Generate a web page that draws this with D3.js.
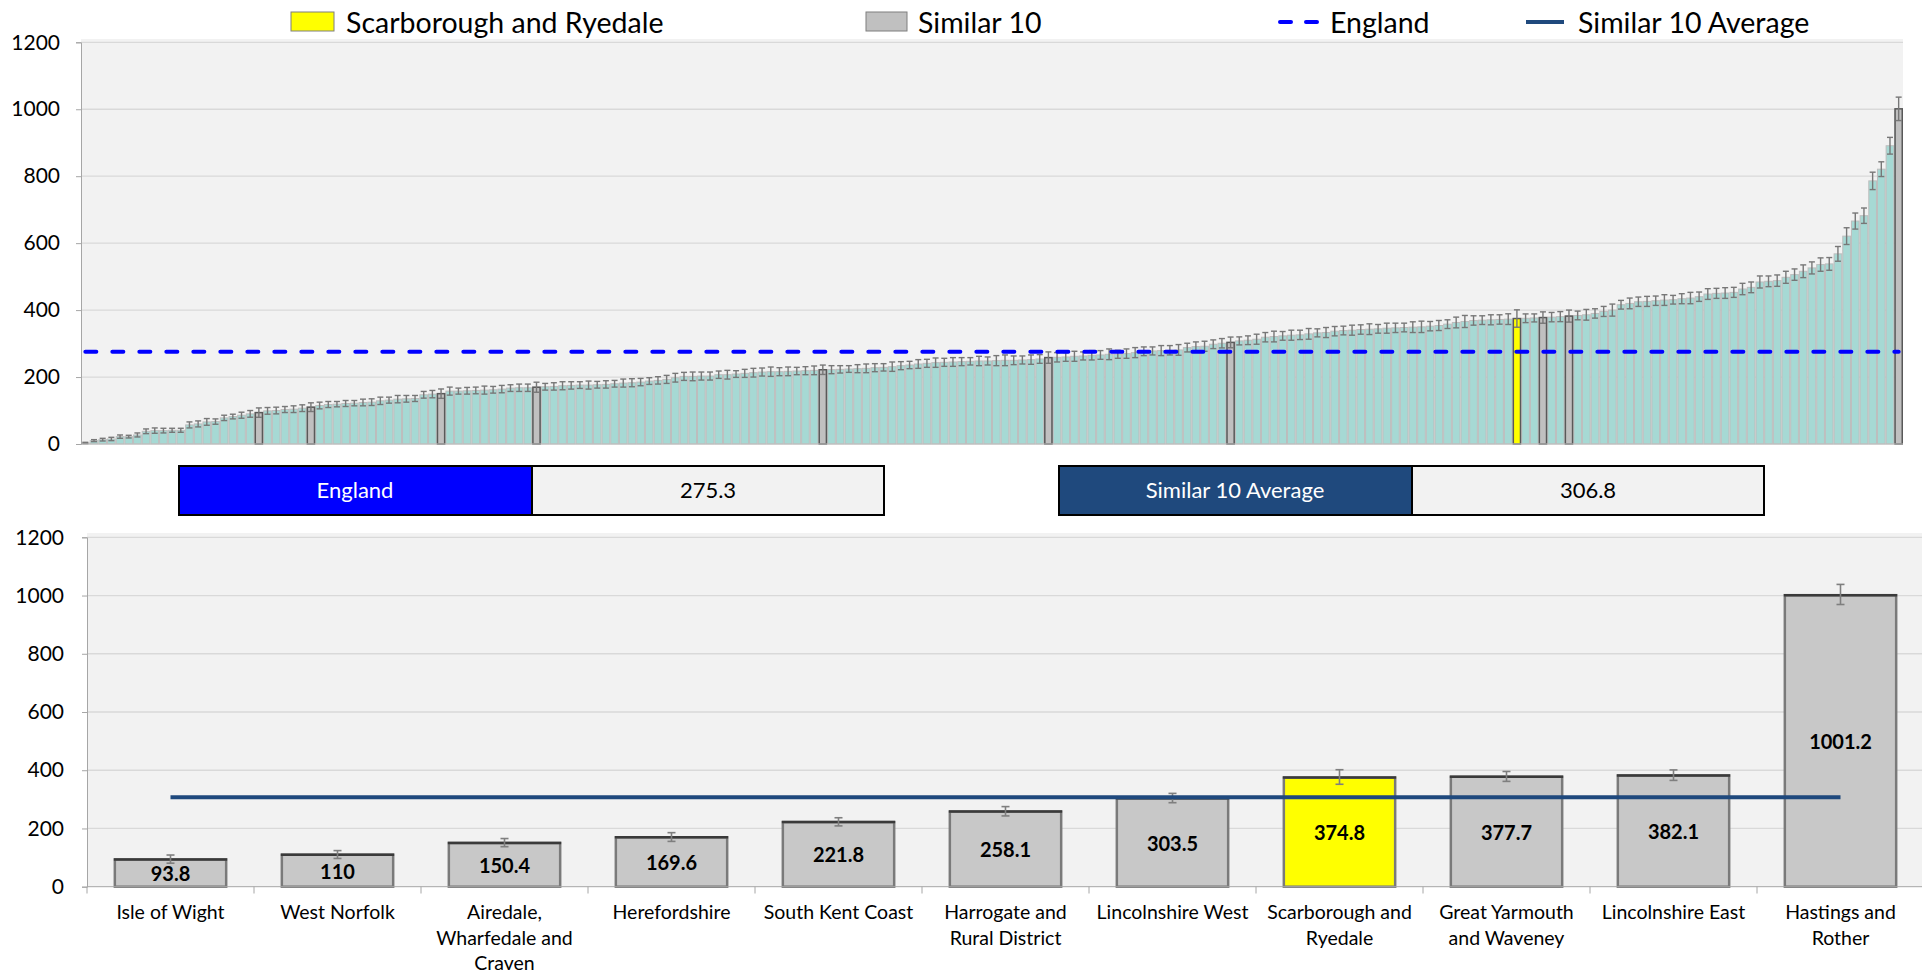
<!DOCTYPE html>
<html>
<head>
<meta charset="utf-8">
<script src="https://cdn.jsdelivr.net/npm/d3@7/dist/d3.min.js"></script>
<style>
body { margin: 0; background: #fff; }
svg text { font-family: Lato, "Open Sans", sans-serif; fill: #000; }
</style>
</head>
<body>
<div id="graph"></div>
<script>
var width = 1922;
var height = 974;

// all areas, sorted (top chart)
var allValues = [
    3, 10, 13, 15, 22, 22, 27, 38, 40, 40,
    41, 41, 57, 60, 66, 67, 78, 82, 86, 90,
    93.8, 99, 100, 103, 104, 107, 110, 115, 118, 119,
    121, 122, 124, 125, 129, 131, 134, 135, 136, 147,
    149, 150.4, 158, 158, 159, 160, 161, 162, 164, 167,
    168, 168, 169.6, 171, 172, 174, 175, 176, 176, 177,
    178, 180, 182, 183, 185, 188, 190, 193, 198, 202,
    202, 203, 203, 207, 207, 209, 211, 213, 215, 216,
    216, 217, 218, 219, 220, 221.8, 222, 223, 224, 225,
    226, 228, 229, 231, 234, 236, 239, 241, 243, 244,
    245, 246, 247, 248, 248, 249, 250, 250, 251, 252,
    254, 258.1, 259, 260, 262, 263, 265, 266, 268, 268,
    270, 273, 277, 278, 279, 280, 281, 288, 291, 292,
    298, 301, 303.5, 308, 310, 313, 319, 321, 323, 325,
    326, 329, 332, 333, 337, 339, 340, 342, 343, 344,
    346, 347, 348, 349, 350, 352, 354, 358, 363, 366,
    369, 370, 371, 372, 373, 374.8, 375.6, 376.6, 377.7, 379,
    380.5, 382.1, 384, 386, 390, 396, 400, 416, 420, 425,
    426, 428, 430, 431, 434, 436, 440, 448, 450, 451,
    453, 463, 468, 484, 486, 488, 498, 506, 516, 526,
    536, 538, 568, 621, 666, 682, 786, 821, 891, 1001.2
];
var allErrors = [
    2, 3, 4, 5, 5, 4, 6, 7, 8, 7,
    6, 6, 9, 9, 10, 8, 8, 7, 9, 10,
    14, 10, 10, 9, 10, 10, 13, 10, 9, 8,
    9, 8, 10, 10, 11, 9, 11, 10, 9, 10,
    11, 14, 12, 9, 10, 10, 12, 10, 11, 10,
    11, 11, 15, 10, 11, 12, 11, 10, 12, 10,
    11, 10, 12, 12, 11, 10, 11, 12, 13, 12,
    13, 12, 12, 11, 13, 10, 12, 13, 12, 14,
    12, 13, 11, 12, 13, 14, 12, 11, 10, 12,
    13, 12, 11, 14, 12, 11, 13, 12, 14, 12,
    13, 12, 11, 14, 12, 15, 16, 13, 12, 14,
    13, 17, 14, 13, 15, 12, 14, 13, 16, 12,
    14, 15, 13, 12, 15, 14, 16, 13, 14, 15,
    13, 14, 16, 12, 13, 15, 14, 16, 13, 15,
    14, 16, 12, 15, 14, 13, 15, 14, 16, 13,
    15, 14, 13, 16, 17, 14, 15, 13, 16, 18,
    14, 13, 15, 14, 16, 26, 13, 12, 17, 14,
    15, 18, 13, 16, 14, 15, 18, 13, 16, 14,
    15, 14, 16, 13, 15, 17, 14, 16, 15, 16,
    15, 17, 16, 18, 16, 17, 18, 17, 19, 18,
    20, 19, 22, 25, 24, 23, 26, 22, 25, 35
];

// similar 10 (bottom chart)
var similarIndex = [20, 26, 41, 52, 85, 111, 132, 165, 168, 171, 209];
var similarNames = ["Isle of Wight", "West Norfolk", "Airedale, Wharfedale and Craven",
    "Herefordshire", "South Kent Coast", "Harrogate and Rural District", "Lincolnshire West",
    "Scarborough and Ryedale", "Great Yarmouth and Waveney", "Lincolnshire East", "Hastings and Rother"];
var similarLabels = [["Isle of Wight"], ["West Norfolk"], ["Airedale,", "Wharfedale and", "Craven"],
    ["Herefordshire"], ["South Kent Coast"], ["Harrogate and", "Rural District"], ["Lincolnshire West"],
    ["Scarborough and", "Ryedale"], ["Great Yarmouth", "and Waveney"], ["Lincolnshire East"], ["Hastings and", "Rother"]];
var similarValues = [93.8, 110, 150.4, 169.6, 221.8, 258.1, 303.5, 374.8, 377.7, 382.1, 1001.2];
var similarLower = [13, 13, 13, 14, 13, 15, 15, 23, 16, 17, 32];
var similarUpper = [15, 14, 15, 16, 15, 17, 17, 27, 18, 19, 37];

var localArea = "Scarborough and Ryedale";
var englandValue = 275.3;
var similarAverage = 306.8;
var yTicks = [0, 200, 400, 600, 800, 1000, 1200];

var teal = "#a6d9d4", grey = "#c0c0c0", yellow = "#ffff00";
var englandBlue = "#0000ff", avgBlue = "#1f497d";

var svg = d3.select('#graph')
    .append('svg')
    .attr('width', width)
    .attr('height', height);

// ---------- legend ----------
var legend = svg.append('g');
legend.append('rect').attr('x', 291).attr('y', 12).attr('width', 43).attr('height', 19)
    .attr('fill', yellow).attr('stroke', '#7f7f7f');
legend.append('text').attr('x', 346).attr('y', 22).attr('dominant-baseline', 'central')
    .style('font-size', '28.5px').text(localArea);
legend.append('rect').attr('x', 866).attr('y', 12).attr('width', 41).attr('height', 19)
    .attr('fill', grey).attr('stroke', '#7f7f7f');
legend.append('text').attr('x', 918).attr('y', 22).attr('dominant-baseline', 'central')
    .style('font-size', '28.5px').text('Similar 10');
legend.append('line').attr('x1', 1280).attr('x2', 1317).attr('y1', 22).attr('y2', 22)
    .attr('stroke', englandBlue).attr('stroke-width', 4).attr('stroke-linecap', 'round')
    .attr('stroke-dasharray', '11,15');
legend.append('text').attr('x', 1330).attr('y', 22).attr('dominant-baseline', 'central')
    .style('font-size', '28.5px').text('England');
legend.append('line').attr('x1', 1526).attr('x2', 1564).attr('y1', 22).attr('y2', 22)
    .attr('stroke', avgBlue).attr('stroke-width', 4);
legend.append('text').attr('x', 1578).attr('y', 22).attr('dominant-baseline', 'central')
    .style('font-size', '28.5px').text('Similar 10 Average');

// ---------- top chart ----------
var xTop = d3.scaleBand().domain(d3.range(allValues.length)).range([81, 1903]).padding(0);
var yTop = d3.scaleLinear().domain([0, 1200]).range([444, 42.3]);

var topChart = svg.append('g');
topChart.append('rect').attr('x', 81).attr('y', 39).attr('width', 1903 - 81).attr('height', 444 - 39)
    .attr('fill', '#f2f2f2');
topChart.selectAll('.grid').data(yTicks.slice(1)).enter().append('line')
    .attr('x1', 81).attr('x2', 1903)
    .attr('y1', function(d) { return yTop(d); }).attr('y2', function(d) { return yTop(d); })
    .attr('stroke', '#d9d9d9').attr('stroke-width', 1.3);

topChart.selectAll('.bar').data(allValues).enter().append('rect')
    .attr('x', function(d, i) { return xTop(i) + 0.5; })
    .attr('y', function(d) { return yTop(d); })
    .attr('width', xTop.bandwidth() - 1)
    .attr('height', function(d) { return yTop(0) - yTop(d); })
    .attr('fill', teal).attr('stroke', '#bdbdbd').attr('stroke-width', 1);

topChart.selectAll('.sim').data(similarIndex).enter().append('rect')
    .attr('x', function(d) { return xTop(d) + 0.75; })
    .attr('y', function(d) { return yTop(allValues[d]); })
    .attr('width', xTop.bandwidth() - 1.5)
    .attr('height', function(d) { return yTop(0) - yTop(allValues[d]); })
    .attr('fill', function(d, i) { return similarNames[i] == localArea ? yellow : grey; })
    .attr('stroke', '#595959').attr('stroke-width', 1.5);

var errTop = topChart.selectAll('.err').data(allValues).enter().append('g')
    .attr('stroke', '#777').attr('stroke-width', 1.4);
errTop.append('line')
    .attr('x1', function(d, i) { return xTop(i) + xTop.bandwidth() / 2; })
    .attr('x2', function(d, i) { return xTop(i) + xTop.bandwidth() / 2; })
    .attr('y1', function(d, i) { return yTop(d - allErrors[i]); })
    .attr('y2', function(d, i) { return yTop(d + allErrors[i]); });
errTop.append('line')
    .attr('x1', function(d, i) { return xTop(i) + xTop.bandwidth() / 2 - 3; })
    .attr('x2', function(d, i) { return xTop(i) + xTop.bandwidth() / 2 + 3; })
    .attr('y1', function(d, i) { return yTop(d + allErrors[i]); })
    .attr('y2', function(d, i) { return yTop(d + allErrors[i]); });
errTop.append('line')
    .attr('x1', function(d, i) { return xTop(i) + xTop.bandwidth() / 2 - 3; })
    .attr('x2', function(d, i) { return xTop(i) + xTop.bandwidth() / 2 + 3; })
    .attr('y1', function(d, i) { return yTop(d - allErrors[i]); })
    .attr('y2', function(d, i) { return yTop(d - allErrors[i]); });

topChart.append('line')
    .attr('x1', xTop(0) + xTop.bandwidth() / 2)
    .attr('x2', xTop(allValues.length - 1) + xTop.bandwidth() / 2)
    .attr('y1', yTop(englandValue)).attr('y2', yTop(englandValue))
    .attr('stroke', englandBlue).attr('stroke-width', 4).attr('stroke-linecap', 'round')
    .attr('stroke-dasharray', '11,16');

topChart.append('line').attr('x1', 81).attr('x2', 1903).attr('y1', 444).attr('y2', 444)
    .attr('stroke', '#bfbfbf');

var yAxisTop = topChart.append('g').attr('transform', 'translate(81,0)')
    .call(d3.axisLeft(yTop).tickValues(yTicks).tickSize(5).tickPadding(16).tickFormat(d3.format('d')));
yAxisTop.select('.domain').attr('stroke', '#a6a6a6');
yAxisTop.selectAll('.tick line').attr('stroke', '#a6a6a6');
yAxisTop.selectAll('text').style('font-size', '21px').attr('fill', '#000');

// ---------- summary boxes ----------
function infoBox(x, label, value, colour) {
    var g = svg.append('g');
    g.append('rect').attr('x', x).attr('y', 466).attr('width', 353).attr('height', 49)
        .attr('fill', colour).attr('stroke', '#000').attr('stroke-width', 2);
    g.append('rect').attr('x', x + 353).attr('y', 466).attr('width', 352).attr('height', 49)
        .attr('fill', '#f2f2f2').attr('stroke', '#000').attr('stroke-width', 2);
    g.append('text').attr('x', x + 176).attr('y', 489).attr('text-anchor', 'middle')
        .attr('dominant-baseline', 'central').style('font-size', '22px').style('fill', '#fff')
        .text(label);
    g.append('text').attr('x', x + 529).attr('y', 489).attr('text-anchor', 'middle')
        .attr('dominant-baseline', 'central').style('font-size', '22px')
        .text(value);
}
infoBox(179, 'England', englandValue, englandBlue);
infoBox(1059, 'Similar 10 Average', similarAverage, avgBlue);

// ---------- bottom chart ----------
var xBot = d3.scaleBand().domain(similarNames).range([87, 1924]).paddingInner(1 / 3).paddingOuter(1 / 6);
var yBot = d3.scaleLinear().domain([0, 1200]).range([886.7, 537.3]);
var step = xBot.step();

var botChart = svg.append('g');
botChart.append('rect').attr('x', 87).attr('y', 533).attr('width', 1922 - 87).attr('height', 886.7 - 533)
    .attr('fill', '#f2f2f2');
botChart.selectAll('.grid').data(yTicks.slice(1)).enter().append('line')
    .attr('x1', 87).attr('x2', 1922)
    .attr('y1', function(d) { return yBot(d); }).attr('y2', function(d) { return yBot(d); })
    .attr('stroke', '#d9d9d9').attr('stroke-width', 1.3);

var bars = botChart.selectAll('.sbar').data(similarNames).enter().append('g');
bars.append('rect')
    .attr('x', function(d) { return xBot(d); })
    .attr('y', function(d, i) { return yBot(similarValues[i]); })
    .attr('width', xBot.bandwidth())
    .attr('height', function(d, i) { return yBot(0) - yBot(similarValues[i]); })
    .attr('fill', function(d) { return d == localArea ? yellow : '#c8c8c8'; })
    .attr('stroke', '#7a7a7a').attr('stroke-width', 2.5);
bars.append('line')
    .attr('x1', function(d) { return xBot(d) - 1; })
    .attr('x2', function(d) { return xBot(d) + xBot.bandwidth() + 1; })
    .attr('y1', function(d, i) { return yBot(similarValues[i]); })
    .attr('y2', function(d, i) { return yBot(similarValues[i]); })
    .attr('stroke', '#3a3a3a').attr('stroke-width', 2.5);

var errBot = bars.append('g').attr('stroke', '#7f7f7f').attr('stroke-width', 1.6);
errBot.append('line')
    .attr('x1', function(d) { return xBot(d) + xBot.bandwidth() / 2; })
    .attr('x2', function(d) { return xBot(d) + xBot.bandwidth() / 2; })
    .attr('y1', function(d, i) { return yBot(similarValues[i] - similarLower[i]); })
    .attr('y2', function(d, i) { return yBot(similarValues[i] + similarUpper[i]); });
errBot.append('line')
    .attr('x1', function(d) { return xBot(d) + xBot.bandwidth() / 2 - 4; })
    .attr('x2', function(d) { return xBot(d) + xBot.bandwidth() / 2 + 4; })
    .attr('y1', function(d, i) { return yBot(similarValues[i] + similarUpper[i]); })
    .attr('y2', function(d, i) { return yBot(similarValues[i] + similarUpper[i]); });
errBot.append('line')
    .attr('x1', function(d) { return xBot(d) + xBot.bandwidth() / 2 - 4; })
    .attr('x2', function(d) { return xBot(d) + xBot.bandwidth() / 2 + 4; })
    .attr('y1', function(d, i) { return yBot(similarValues[i] - similarLower[i]); })
    .attr('y2', function(d, i) { return yBot(similarValues[i] - similarLower[i]); });

bars.append('text')
    .attr('x', function(d) { return xBot(d) + xBot.bandwidth() / 2; })
    .attr('y', function(d, i) { return (yBot(similarValues[i]) + yBot(0)) / 2; })
    .attr('text-anchor', 'middle').attr('dominant-baseline', 'central')
    .style('font-size', '20px').style('font-weight', 'bold')
    .text(function(d, i) { return similarValues[i]; });

// similar 10 average line
botChart.append('line')
    .attr('x1', xBot(similarNames[0]) + xBot.bandwidth() / 2)
    .attr('x2', xBot(similarNames[similarNames.length - 1]) + xBot.bandwidth() / 2)
    .attr('y1', yBot(similarAverage)).attr('y2', yBot(similarAverage))
    .attr('stroke', avgBlue).attr('stroke-width', 4);

// axes
botChart.append('line').attr('x1', 87).attr('x2', 1922).attr('y1', 886.7).attr('y2', 886.7)
    .attr('stroke', '#a6a6a6');
botChart.selectAll('.xtick').data(d3.range(similarNames.length + 1)).enter().append('line')
    .attr('x1', function(k) { return 87 + k * step; }).attr('x2', function(k) { return 87 + k * step; })
    .attr('y1', 886.7).attr('y2', 893.5).attr('stroke', '#a6a6a6');

var yAxisBot = botChart.append('g').attr('transform', 'translate(87,0)')
    .call(d3.axisLeft(yBot).tickValues(yTicks).tickSize(5).tickPadding(18).tickFormat(d3.format('d')));
yAxisBot.select('.domain').attr('stroke', '#a6a6a6');
yAxisBot.selectAll('.tick line').attr('stroke', '#a6a6a6');
yAxisBot.selectAll('text').style('font-size', '21px').attr('fill', '#000');

var xl = botChart.selectAll('.xlab').data(similarNames).enter().append('text')
    .attr('text-anchor', 'middle').style('font-size', '19.5px');
xl.selectAll('tspan').data(function(d, i) { return similarLabels[i]; }).enter().append('tspan')
    .attr('x', function() { var n = d3.select(this.parentNode).datum(); return xBot(n) + xBot.bandwidth() / 2; })
    .attr('y', function(d, j) { return 919 + j * 25.7; })
    .text(function(d) { return d; });
</script>
</body>
</html>
